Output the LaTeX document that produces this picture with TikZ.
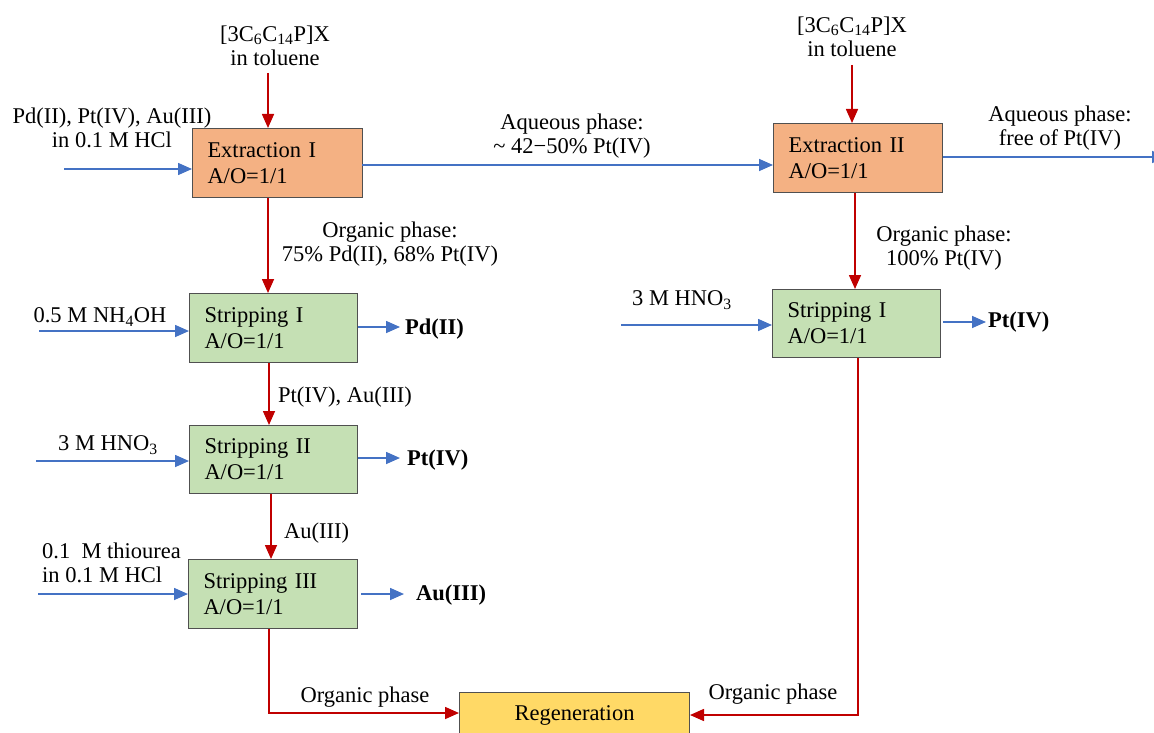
\documentclass[tikz,border=0pt]{standalone}
\usepackage{fontspec}
\setmainfont{Liberation Serif}
\usetikzlibrary{arrows.meta}
\definecolor{extfill}{HTML}{F4B183}
\definecolor{stripfill}{HTML}{C5E0B4}
\definecolor{regenfill}{HTML}{FFD966}
\definecolor{boxline}{HTML}{505050}
\definecolor{aqblue}{HTML}{4472C4}
\definecolor{orgred}{HTML}{C00000}
\begin{document}
\begin{tikzpicture}[x=1pt,y=-1pt,
  every node/.style={font=\fontsize{22.5}{24.5}\selectfont, inner sep=0pt},
  unit/.style={draw=boxline, line width=1pt, anchor=north west, inner xsep=15pt, inner ysep=0pt,
    align=left, font=\fontsize{22.5}{26}\selectfont},
  extbox/.style={unit, fill=extfill},
  stripbox/.style={unit, fill=stripfill},
  regenbox/.style={unit, fill=regenfill, align=center},
  aqflow/.style={draw=aqblue, line width=1.6pt, -{Triangle[length=14pt,width=12pt]}},
  orgflow/.style={draw=orgred, line width=1.6pt, -{Triangle[length=14pt,width=12pt]}},
  lbl/.style={align=center},
  product/.style={anchor=west, font=\fontsize{22.5}{24.5}\selectfont\bfseries}
]
\useasboundingbox (0,0) rectangle (1154,733);
\clip (0,0) rectangle (1154,733);

% ---------- process units ----------
\node[extbox, minimum width=170pt, minimum height=69pt, text width=140pt] (ext1) at (192,128) {Extraction I\\A/O=1/1};
\node[extbox, minimum width=169pt, minimum height=69pt, text width=139pt] (ext2) at (773,123) {Extraction II\\A/O=1/1};
\node[stripbox, minimum width=168pt, minimum height=69pt, text width=138pt] (st1) at (189,293) {Stripping I\\A/O=1/1};
\node[stripbox, minimum width=168pt, minimum height=68pt, text width=138pt] (st2) at (189,425) {Stripping II\\A/O=1/1};
\node[stripbox, minimum width=169pt, minimum height=69pt, text width=139pt] (st3) at (188,559) {Stripping III\\A/O=1/1};
\node[stripbox, minimum width=168pt, minimum height=68pt, text width=138pt] (stR) at (772,289) {Stripping I\\A/O=1/1};
\node[regenbox, minimum width=230pt, minimum height=45pt, text width=200pt] (regen) at (459,692) {Regeneration};

% ---------- stream labels ----------
\node[lbl] (feedlbl) at (112,128) {Pd(II), Pt(IV), Au(III)\\in 0.1 M HCl};
\node[lbl] (solv1) at (275,46) {[3C\textsubscript{6}C\textsubscript{14}P]X\\in toluene};
\node[lbl] (solv2) at (852,37) {[3C\textsubscript{6}C\textsubscript{14}P]X\\in toluene};
\node[lbl] (aq1) at (572,136) {Aqueous phase:\\\textasciitilde{} 42−50\% Pt(IV)};
\node[lbl] (aq2) at (1060,128) {Aqueous phase:\\free of Pt(IV)};
\node[lbl] (org1) at (390,244) {Organic phase:\\75\% Pd(II), 68\% Pt(IV)};
\node[lbl] (org2) at (944,248) {Organic phase:\\100\% Pt(IV)};
\node[lbl] (nh4oh) at (100,317) {0.5 M NH\textsubscript{4}OH};
\node[lbl] (hno3a) at (108,445) {3 M HNO\textsubscript{3}};
\node[lbl] (hno3b) at (682,300) {3 M HNO\textsubscript{3}};
\node[anchor=west, align=left] (thio) at (42,563) {0.1\ \ M thiourea\\in 0.1 M HCl};
\node[anchor=west] (ptau) at (278,397) {Pt(IV), Au(III)};
\node[anchor=west] (au) at (284,533) {Au(III)};
\node[lbl] (orgL) at (365,697) {Organic phase};
\node[lbl] (orgR) at (773,694) {Organic phase};

% ---------- products ----------
\node[product] (pd) at (405,329) {Pd(II)};
\node[product] (pt) at (407,460) {Pt(IV)};
\node[product] (aup) at (416,595) {Au(III)};
\node[product] (ptR) at (988,322) {Pt(IV)};

% ---------- free stream ends ----------
\coordinate (f1) at (64,169);
\coordinate (s1) at (268,73);
\coordinate (s2) at (852,65);
\coordinate (a1) at (362,165);
\coordinate (a2) at (1166,157);
\coordinate (f2) at (39,331);
\coordinate (f3) at (36,461);
\coordinate (f4) at (38,594);
\coordinate (fR) at (621,325);
\coordinate (p1) at (400,327);
\coordinate (p2) at (400,458);
\coordinate (p3) at (404,594);
\coordinate (pR) at (986,322);
\coordinate (b1) at (269,713);
\coordinate (b2) at (858,715);

% ---------- aqueous streams ----------
\draw[aqflow] (f1) -- (ext1.west |- f1);
\draw[aqflow] (a1) -- (ext2.west |- a1);
\draw[aqflow] (ext2.east |- a2) -- (a2);
\draw[aqflow] (f2) -- (st1.west |- f2);
\draw[aqflow] (f3) -- (st2.west |- f3);
\draw[aqflow] (f4) -- (st3.west |- f4);
\draw[aqflow] (fR) -- (stR.west |- fR);
\draw[aqflow] (st1.east |- p1) -- (p1);
\draw[aqflow] (st2.east |- p2) -- (p2);
\draw[aqflow] ([xshift=3pt]st3.east |- p3) -- (p3);
\draw[aqflow] ([xshift=2pt]stR.east |- pR) -- (pR);

% ---------- organic streams ----------
\draw[orgflow] (s1) -- (ext1.north -| s1);
\draw[orgflow] (s2) -- (ext2.north -| s2);
\draw[orgflow] (ext1.south -| s1) -- (st1.north -| s1);
\draw[orgflow] (ext2.south -| 855,0) -- (stR.north -| 855,0);
\draw[orgflow] (st1.south -| 269,0) -- (st2.north -| 269,0);
\draw[orgflow] (st2.south -| 271,0) -- (st3.north -| 271,0);
\draw[orgflow] (st3.south -| b1) -- (b1) -- (regen.west |- b1);
\draw[orgflow] (stR.south -| b2) -- (b2) -- (regen.east |- b2);
\end{tikzpicture}
\end{document}
